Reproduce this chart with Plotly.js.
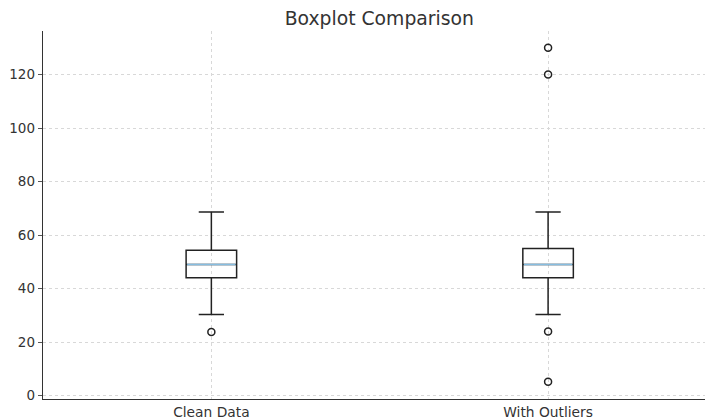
<!DOCTYPE html>
<html>
<head>
<meta charset="utf-8">
<script src="https://cdn.plot.ly/plotly-3.0.1.min.js"></script>
<style>html,body{margin:0;padding:0;background:#fff;}#chart{width:705px;height:419px;}</style>
</head>
<body>
<div id="chart"></div>
<script>
// Category labels and positions
var categories = ["Clean Data", "With Outliers"];
var positions = [1, 2];
// Box statistics
var lowerWhisker = [30.3, 30.3];
var q1Values = [44.1, 44.1];
var medianValues = [49.0, 49.0];
var q3Values = [54.3, 55.0];
var upperWhisker = [68.6, 68.6];
// Outlier points for each category
var outliersClean = [23.8];
var outliersWith = [130, 120, 24.0, 5.2];
var yTicks = [0, 20, 40, 60, 80, 100, 120];

var boxWidth = 0.15;
var traces = [];
for (var i = 0; i < categories.length; i++) {
  traces.push({
    type: "box",
    x: [positions[i]],
    q1: [q1Values[i]], median: [medianValues[i]], q3: [q3Values[i]],
    lowerfence: [lowerWhisker[i]], upperfence: [upperWhisker[i]],
    width: boxWidth,
    whiskerwidth: 0.5,
    line: {color: "#222", width: 1.5},
    fillcolor: "rgba(0,0,0,0)",
    boxpoints: false,
    hoverinfo: "skip",
    showlegend: false
  });
  traces.push({
    type: "scatter", mode: "lines",
    x: [positions[i] - boxWidth / 2 + 0.003, positions[i] + boxWidth / 2 - 0.003],
    y: [medianValues[i], medianValues[i]],
    line: {color: "#86bde0", width: 1.4},
    hoverinfo: "skip", showlegend: false
  });
}
var outlierSets = [outliersClean, outliersWith];
for (var j = 0; j < outlierSets.length; j++) {
  traces.push({
    type: "scatter", mode: "markers",
    x: outlierSets[j].map(function(){ return positions[j]; }),
    y: outlierSets[j],
    marker: {symbol: "circle-open", size: 7, color: "#222", line: {width: 1.5, color: "#222"}},
    hoverinfo: "skip", showlegend: false
  });
}

var layout = {
  width: 705, height: 419,
  margin: {l: 43, r: 0, t: 31, b: 20},
  paper_bgcolor: "#fff", plot_bgcolor: "#fff",
  font: {family: "DejaVu Sans, sans-serif", color: "#333", size: 13.5},
  title: {text: "Boxplot Comparison", x: 0.538, xanchor: "center", xref: "container", y: 0.957, yanchor: "middle", font: {size: 18.8, color: "#333"}},
  xaxis: {
    range: [0.5, 2.466],
    tickmode: "array", tickvals: positions, ticktext: categories,
    tickfont: {size: 13.8},
    showgrid: true, gridcolor: "#d8d8d8", griddash: "dot", gridwidth: 1,
    showline: true, linecolor: "#333", linewidth: 1.3,
    ticks: "", automargin: false,
    zeroline: false, fixedrange: true
  },
  yaxis: {
    range: [-1.25, 136.25],
    tickmode: "array", tickvals: yTicks,
    showgrid: true, gridcolor: "#d8d8d8", griddash: "dot", gridwidth: 1,
    showline: true, linecolor: "#333", linewidth: 1.3,
    ticks: "outside", ticklen: 4, tickcolor: "#555", automargin: false,
    zeroline: false, fixedrange: true
  }
};
Plotly.newPlot("chart", traces, layout, {displayModeBar: false, staticPlot: true});
</script>
</body>
</html>
